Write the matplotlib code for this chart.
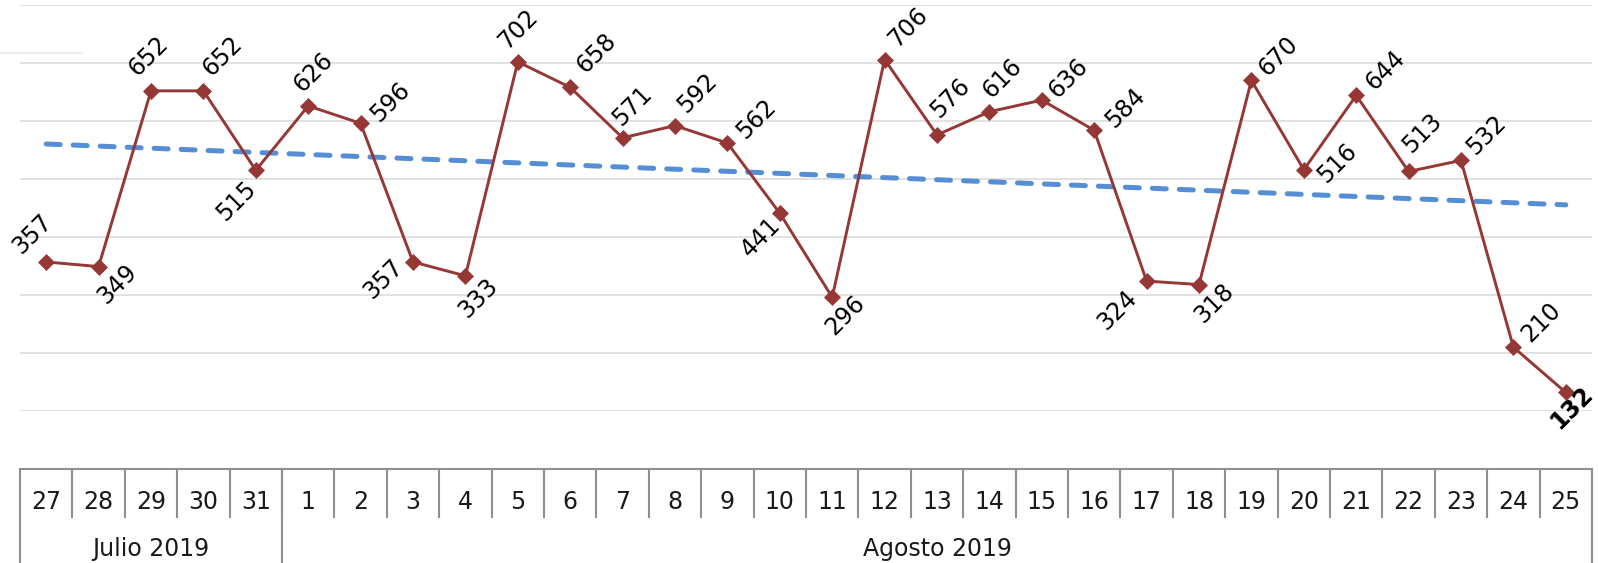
import numpy as np
import matplotlib
matplotlib.use('Agg')
import matplotlib.pyplot as plt
from matplotlib.lines import Line2D
import matplotlib.transforms as mtransforms

plt.rcParams['font.family'] = ['DejaVu Sans']

# dias del periodo y valores diarios
dias = ['27', '28', '29', '30', '31', '1', '2', '3', '4', '5', '6', '7', '8', '9', '10',
        '11', '12', '13', '14', '15', '16', '17', '18', '19', '20', '21', '22', '23', '24', '25']
valores = [357, 349, 652, 652, 515, 626, 596, 357, 333, 702, 658, 571, 592, 562, 441,
           296, 706, 576, 616, 636, 584, 324, 318, 670, 516, 644, 513, 532, 210, 132]
meses = ['Julio 2019', 'Agosto 2019']
dias_por_mes = [5, 25]

# desplazamiento (px, y hacia abajo) de cada etiqueta respecto a su punto
offsets = [(-14, -28), (19, 18), (-3, -35), (19, -35), (-20, 31), (5, -34), (30, -21),
           (-30, 17), (13, 22), (0, -33), (26, -34), (10, -32), (22, -33), (29, -24),
           (-19, 24), (13, 18), (23, -32), (13, -37), (13, -34), (27, -22), (31, -22),
           (-29, 29), (15, 19), (27, -24), (33, -7), (29, -25), (14, -38), (25, -25),
           (28, -25), (6, 15)]

x = np.arange(len(valores))
rojo = '#953735'
azul = '#558ED5'
gris = '#8f8f8f'

fig = plt.figure(figsize=(15.98, 5.63), dpi=100)
ax = fig.add_axes([20 / 1598, 152 / 563, 1572 / 1598, 406 / 563])
ax.set_xlim(-0.5, len(valores) - 0.5)
ax.set_ylim(100, 800)
ax.set_yticks(np.arange(100, 801, 100))
ax.grid(axis='y', color='#d9d9d9', linewidth=1.1)
ax.set_axisbelow(True)
for s in ax.spines.values():
    s.set_visible(False)
ax.tick_params(left=False, bottom=False, labelleft=False, labelbottom=False)

# linea de tendencia
m, b = np.polyfit(x, valores, 1)
ax.plot(x, m * x + b, color=azul, linewidth=3.6, dashes=(2.8, 2.6),
        dash_capstyle='round', zorder=2)

ax.plot(x, valores, color=rojo, linewidth=2.1, marker='D', markersize=8.5,
        markeredgewidth=0.5, zorder=3)

for i, v in enumerate(valores):
    peso = 'bold' if i == len(valores) - 1 else 'normal'
    dx, dy = offsets[i]
    ax.annotate(str(v), (x[i], v), xytext=(dx, -dy), textcoords='offset pixels',
                ha='center', va='center', rotation=45, fontsize=17,
                fontweight=peso, color='black', annotation_clip=False, zorder=4)

# tabla de categorias bajo el eje
trans = mtransforms.blended_transform_factory(ax.transData, ax.transAxes)
y_top = -(469 - 411) / 406
y_dia = -(517 - 411) / 406
y_fin = -(563 - 411) / 406
y_txt_dia = -(509 - 411) / 406
y_txt_mes = -(556 - 411) / 406

lineas = [Line2D([-0.5, len(valores) - 0.5], [y_top, y_top])]
for k in range(1, len(valores)):
    lineas.append(Line2D([k - 0.5, k - 0.5], [y_top, y_dia]))
bordes = np.concatenate([[0], np.cumsum(dias_por_mes)]) - 0.5
for e in bordes:
    lineas.append(Line2D([e, e], [y_top, y_fin]))
for ln in lineas:
    ln.set_transform(trans)
    ln.set_color(gris)
    ln.set_linewidth(1.5)
    ln.set_clip_on(False)
    ax.add_line(ln)

for i, d in enumerate(dias):
    ax.text(x[i], y_txt_dia, d, transform=trans, ha='center', va='baseline',
            fontsize=17, color='#1a1a1a')
for j, mes in enumerate(meses):
    centro = (bordes[j] + bordes[j + 1]) / 2
    ax.text(centro, y_txt_mes, mes, transform=trans, ha='center', va='baseline',
            fontsize=17, color='#1a1a1a')

# trazo suelto arriba a la izquierda
fig.add_artist(Line2D([0, 82 / 1598], [1 - 53 / 563, 1 - 53 / 563],
                      color='#e6e6e6', linewidth=1.2, transform=fig.transFigure))

fig.savefig('out.png', dpi=100)
